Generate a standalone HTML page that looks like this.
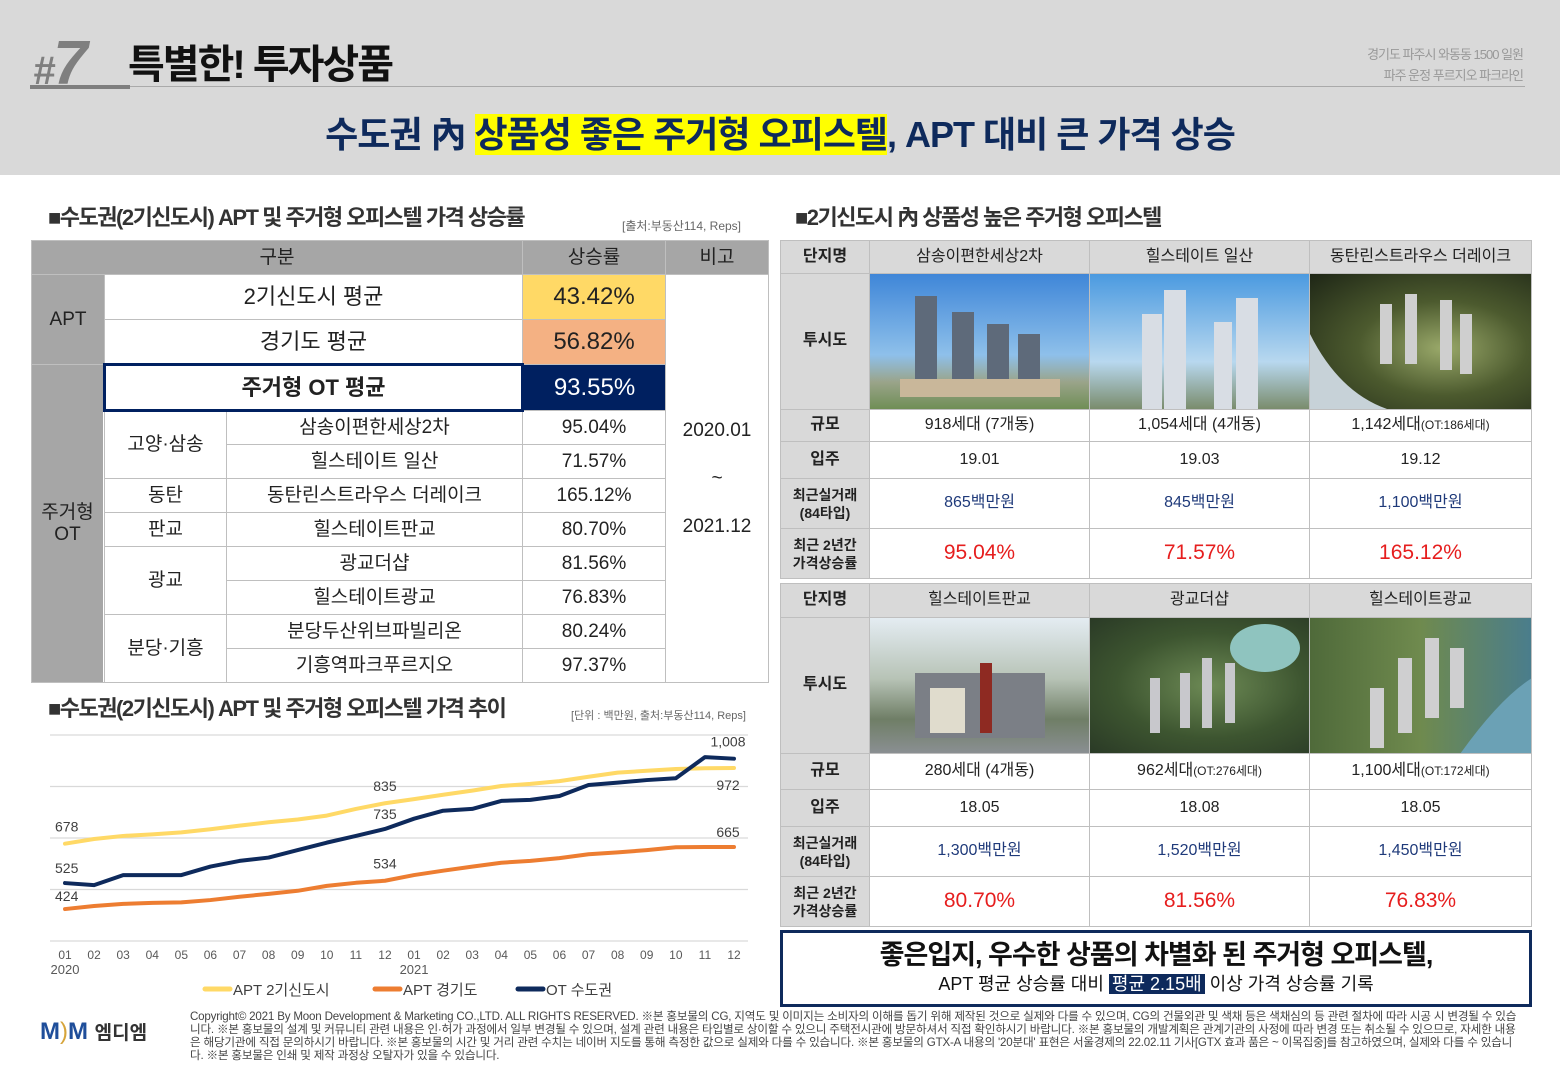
<!DOCTYPE html>
<html><head><meta charset="utf-8">
<style>
*{margin:0;padding:0;box-sizing:border-box}
body{width:1560px;height:1080px;position:relative;background:#fff;font-family:"Liberation Sans","Noto Sans CJK KR",sans-serif;overflow:hidden;color:#222}
.a{position:absolute;white-space:nowrap}
table{border-collapse:collapse;position:absolute;table-layout:fixed}
td{border:1px solid #bfbfbf;text-align:center;vertical-align:middle;padding:0;overflow:hidden;white-space:nowrap;line-height:1.15}
.g{background:#a6a6a6}
.lg{background:#d9d9d9;font-weight:bold}
.lt td{font-size:19px;color:#222}
.rt td{font-size:16px}
.navy{color:#1f3a7a}
.red{color:#e61e1e;font-size:21px!important}
.img{padding:0}
.img div{width:100%;height:100%;overflow:hidden}
svg{display:block}
</style></head><body>
<div class="a" style="left:0;top:0;width:1560px;height:175px;background:#d9d9d9"></div>
<div class="a" style="left:30px;top:86px;width:1495px;height:1px;background:#aaa"></div>
<div class="a" style="left:33px;top:28px;font-size:62px;font-style:italic;color:#7f7f7f;font-weight:bold;letter-spacing:-2px"><span style="font-size:40px">#</span>7</div>
<div class="a" style="left:30px;top:85px;width:100px;height:4px;background:#7f7f7f"></div>
<div class="a" style="left:128px;top:32px;font-size:40px;font-weight:bold;color:#111;letter-spacing:-2px">특별한! 투자상품</div>
<div class="a" style="right:37px;top:44px;font-size:13px;color:#999;text-align:right;line-height:21px;letter-spacing:-1px">경기도 파주시 와동동 1500 일원<br>파주 운정 푸르지오 파크라인</div>
<div class="a" style="left:0;width:1560px;top:106px;text-align:center;font-size:36px;font-weight:bold;color:#0e2a5c;letter-spacing:-1px">수도권 內 <span style="background:#ffff00">상품성 좋은 주거형 오피스텔</span>, APT 대비 큰 가격 상승</div>

<div class="a" style="left:48px;top:200px;font-size:22px;font-weight:bold;color:#333;letter-spacing:-1.5px">■수도권(2기신도시) APT 및 주거형 오피스텔 가격 상승률</div>
<div class="a" style="left:622px;top:217px;font-size:12px;color:#666">[출처:부동산114, Reps]</div>

<table class="lt" style="left:31px;top:240px;width:737px">
<colgroup><col style="width:73px"><col style="width:122px"><col style="width:296px"><col style="width:143px"><col style="width:103px"></colgroup>
<tr style="height:34px" class="g"><td colspan="3">구분</td><td>상승률</td><td>비고</td></tr>
<tr style="height:45px"><td rowspan="2" class="g">APT</td><td colspan="2" style="font-size:22px">2기신도시 평균</td><td style="background:#ffd966;font-size:24px">43.42%</td><td rowspan="11" style="font-size:19px;line-height:48px">2020.01<br>~<br>2021.12</td></tr>
<tr style="height:45px"><td colspan="2" style="font-size:22px">경기도 평균</td><td style="background:#f4b183;font-size:24px">56.82%</td></tr>
<tr style="height:46px"><td rowspan="9" class="g">주거형<br>OT</td><td colspan="2" style="font-size:22px;font-weight:bold;border:3px solid #002060">주거형 OT 평균</td><td style="background:#002060;color:#fff;font-size:24px">93.55%</td></tr>
<tr style="height:34px"><td rowspan="2">고양·삼송</td><td>삼송이편한세상2차</td><td>95.04%</td></tr>
<tr style="height:34px"><td>힐스테이트 일산</td><td>71.57%</td></tr>
<tr style="height:34px"><td>동탄</td><td>동탄린스트라우스 더레이크</td><td>165.12%</td></tr>
<tr style="height:34px"><td>판교</td><td>힐스테이트판교</td><td>80.70%</td></tr>
<tr style="height:34px"><td rowspan="2">광교</td><td>광교더샵</td><td>81.56%</td></tr>
<tr style="height:34px"><td>힐스테이트광교</td><td>76.83%</td></tr>
<tr style="height:34px"><td rowspan="2">분당·기흥</td><td>분당두산위브파빌리온</td><td>80.24%</td></tr>
<tr style="height:34px"><td>기흥역파크푸르지오</td><td>97.37%</td></tr>
</table>

<div class="a" style="left:795px;top:200px;font-size:22px;font-weight:bold;color:#333;letter-spacing:-1.5px">■2기신도시 內 상품성 높은 주거형 오피스텔</div>

<table class="rt" style="left:780px;top:240px;width:751px">
<colgroup><col style="width:89px"><col style="width:220px"><col style="width:220px"><col style="width:222px"></colgroup>
<tr style="height:33px" class="lg"><td>단지명</td><td style="font-weight:normal">삼송이편한세상2차</td><td style="font-weight:normal">힐스테이트 일산</td><td style="font-weight:normal">동탄린스트라우스 더레이크</td></tr>
<tr style="height:136px"><td class="lg">투시도</td><td class="img"><div style="height:135px;background:linear-gradient(180deg,#3f86d8 0%,#8ec0ea 60%,#9aa48a 80%,#6f8e55 100%)"><svg width="220" height="135"><g fill="#5e6a7a"><rect x="45" y="22" width="22" height="100"/><rect x="82" y="38" width="22" height="84"/><rect x="117" y="50" width="22" height="72"/><rect x="148" y="60" width="22" height="62"/></g><rect x="30" y="105" width="160" height="18" fill="#c9b79a"/></svg></div></td><td class="img"><div style="height:135px;background:linear-gradient(180deg,#4b9ae0 0%,#b8d8ef 65%,#7a8c6c 100%)"><svg width="220" height="135"><g fill="#d8dde4"><rect x="52" y="40" width="20" height="96"/><rect x="74" y="16" width="22" height="120"/><rect x="124" y="48" width="18" height="88"/><rect x="146" y="24" width="22" height="112"/></g></svg></div></td><td class="img"><div style="height:135px;background:radial-gradient(ellipse at 60% 55%,#9aa96a 0%,#4c5a2e 45%,#1e2616 100%)"><svg width="221" height="135"><g fill="#cfcfcf"><rect x="70" y="30" width="12" height="60"/><rect x="95" y="20" width="12" height="70"/><rect x="130" y="26" width="12" height="70"/><rect x="150" y="40" width="12" height="60"/></g><path d="M0 60 Q30 120 80 136 L0 136Z" fill="#c7d2d8"/></svg></div></td></tr>
<tr style="height:32px"><td class="lg">규모</td><td>918세대 (7개동)</td><td>1,054세대 (4개동)</td><td>1,142세대<span style="font-size:12px">(OT:186세대)</span></td></tr>
<tr style="height:37px"><td class="lg">입주</td><td>19.01</td><td>19.03</td><td>19.12</td></tr>
<tr style="height:50px"><td class="lg" style="font-size:14px;line-height:18px">최근실거래<br>(84타입)</td><td class="navy">865백만원</td><td class="navy">845백만원</td><td class="navy">1,100백만원</td></tr>
<tr style="height:50px"><td class="lg" style="font-size:14px;line-height:18px">최근 2년간<br>가격상승률</td><td class="red">95.04%</td><td class="red">71.57%</td><td class="red">165.12%</td></tr>
</table>

<table class="rt" style="left:780px;top:583px;width:751px">
<colgroup><col style="width:89px"><col style="width:220px"><col style="width:220px"><col style="width:222px"></colgroup>
<tr style="height:34px" class="lg"><td>단지명</td><td style="font-weight:normal">힐스테이트판교</td><td style="font-weight:normal">광교더샵</td><td style="font-weight:normal">힐스테이트광교</td></tr>
<tr style="height:136px"><td class="lg">투시도</td><td class="img"><div style="height:135px;background:linear-gradient(180deg,#e4ecf2 0%,#b7c3b6 45%,#6f7e66 75%,#8a8f92 100%)"><svg width="220" height="135"><rect x="45" y="55" width="130" height="65" fill="#7b7f86"/><rect x="110" y="45" width="12" height="70" fill="#8e2a22"/><rect x="60" y="70" width="35" height="45" fill="#e0dccd"/></svg></div></td><td class="img"><div style="height:135px;background:radial-gradient(ellipse at 55% 50%,#6d8a55 0%,#3d5530 55%,#2a3a26 100%)"><svg width="220" height="135"><ellipse cx="175" cy="30" rx="35" ry="24" fill="#8fc4bf"/><g fill="#c8c8cc"><rect x="60" y="60" width="10" height="55"/><rect x="90" y="55" width="10" height="55"/><rect x="112" y="40" width="10" height="70"/><rect x="135" y="45" width="10" height="60"/></g></svg></div></td><td class="img"><div style="height:135px;background:linear-gradient(90deg,#4f6a3a 0%,#6f8a4e 50%,#4a7d8c 100%)"><svg width="222" height="135"><path d="M150 136 Q190 80 222 60 L222 136Z" fill="#6ba1b5"/><g fill="#cfcfd0"><rect x="60" y="70" width="14" height="60"/><rect x="88" y="40" width="14" height="75"/><rect x="115" y="20" width="14" height="80"/><rect x="140" y="30" width="14" height="60"/></g></svg></div></td></tr>
<tr style="height:36px"><td class="lg">규모</td><td>280세대 (4개동)</td><td>962세대<span style="font-size:12px">(OT:276세대)</span></td><td>1,100세대<span style="font-size:12px">(OT:172세대)</span></td></tr>
<tr style="height:37px"><td class="lg">입주</td><td>18.05</td><td>18.08</td><td>18.05</td></tr>
<tr style="height:50px"><td class="lg" style="font-size:14px;line-height:18px">최근실거래<br>(84타입)</td><td class="navy">1,300백만원</td><td class="navy">1,520백만원</td><td class="navy">1,450백만원</td></tr>
<tr style="height:50px"><td class="lg" style="font-size:14px;line-height:18px">최근 2년간<br>가격상승률</td><td class="red">80.70%</td><td class="red">81.56%</td><td class="red">76.83%</td></tr>
</table>

<div class="a" style="left:780px;top:930px;width:752px;height:77px;border:3px solid #0e2a5c;text-align:center">
<div style="font-size:27px;font-weight:bold;margin-top:5px;line-height:34px;letter-spacing:-1px;color:#111">좋은입지, 우수한 상품의 차별화 된 주거형 오피스텔,</div>
<div style="font-size:18px;line-height:24px;margin-top:0;color:#111">APT 평균 상승률 대비 <span style="background:#0e2a5c;color:#fff;padding:0 3px">평균 2.15배</span> 이상 가격 상승률 기록</div>
</div>

<div class="a" style="left:48px;top:691px;font-size:22px;font-weight:bold;color:#333;letter-spacing:-1.5px">■수도권(2기신도시) APT 및 주거형 오피스텔 가격 추이</div>
<div class="a" style="left:571px;top:707px;font-size:11px;color:#666">[단위 : 백만원, 출처:부동산114, Reps]</div>

<svg class="a" style="left:0;top:0" width="1560" height="1080" id="chart"></svg>

<div class="a" style="left:40px;top:1018px;font-size:24px;font-weight:bold;color:#1f4e9a">M<span style="color:#d6a43a;font-weight:normal">)</span>M <span style="font-size:19px;color:#333">엠디엠</span></div>
<div class="a" style="left:190px;top:1010px;width:1328px;white-space:normal;font-size:11.6px;line-height:13px;color:#444;letter-spacing:-0.2px">Copyright© 2021 By Moon Development &amp; Marketing CO.,LTD. ALL RIGHTS RESERVED. ※본 홍보물의 CG, 지역도 및 이미지는 소비자의 이해를 돕기 위해 제작된 것으로 실제와 다를 수 있으며, CG의 건물외관 및 색채 등은 색채심의 등 관련 절차에 따라 시공 시 변경될 수 있습니다. ※본 홍보물의 설계 및 커뮤니티 관련 내용은 인·허가 과정에서 일부 변경될 수 있으며, 설계 관련 내용은 타입별로 상이할 수 있으니 주택전시관에 방문하셔서 직접 확인하시기 바랍니다. ※본 홍보물의 개발계획은 관계기관의 사정에 따라 변경 또는 취소될 수 있으므로, 자세한 내용은 해당기관에 직접 문의하시기 바랍니다. ※본 홍보물의 시간 및 거리 관련 수치는 네이버 지도를 통해 측정한 값으로 실제와 다를 수 있습니다. ※본 홍보물의 GTX-A 내용의 '20분대' 표현은 서울경제의 22.02.11 기사[GTX 효과 품은 ~ 이목집중]를 참고하였으며, 실제와 다를 수 있습니다. ※본 홍보물은 인쇄 및 제작 과정상 오탈자가 있을 수 있습니다.</div>

<script>
const months = ["01","02","03","04","05","06","07","08","09","10","11","12","01","02","03","04","05","06","07","08","09","10","11","12"];
const years = ["2020","2021"];
const gridValues = [300,500,700,900,1100];
const aptNewTown = [678,696,708,714,722,734,748,761,772,787,813,835,851,868,884,902,910,921,938,954,961,968,971,972];
const aptGyeonggi = [424,436,444,448,450,459,472,483,495,514,526,534,556,573,589,604,611,622,637,644,653,664,665,665];
const otMetro = [525,517,556,556,556,589,611,624,653,682,708,735,775,806,813,844,848,863,906,915,925,932,1014,1008];
const labelIdx = [0,11,23];

const NS = "http://www.w3.org/2000/svg";
const svg = document.getElementById("chart");
const X0 = 65, X1 = 734, Y0 = 941, YS = 0.2575, GL = 50, GR = 748;
function xs(i){ return X0 + i * (X1 - X0) / (months.length - 1); }
function ys(v){ return Y0 - (v - 300) * YS; }
function mk(tag, attrs){ const e = document.createElementNS(NS, tag); for (const k in attrs) e.setAttribute(k, attrs[k]); return e; }

gridValues.forEach(function(v){
  const l = mk("line", {x1:GL, x2:GR, y1:ys(v), y2:ys(v), stroke:"#d9d9d9", "stroke-width":1.3});
  
  
  svg.appendChild(l);
});
months.forEach(function(m, i){
  const t = mk("text", {x:xs(i), y:959, "text-anchor":"middle", "font-size":12, fill:"#595959"});
  t.textContent = m;
  
  
  svg.appendChild(t);
});
years.forEach(function(yr, k){
  const t = mk("text", {x:xs(k * 12), y:974, "text-anchor":"middle", "font-size":13, fill:"#595959"});
  t.textContent = yr;
  
  
  svg.appendChild(t);
});
const series = [
  {d:aptNewTown, c:"#ffd966", n:"apt-newtown-line", off:[-12,-12,22]},
  {d:aptGyeonggi, c:"#ed7d31", n:"apt-gyeonggi-line", off:[-8,-12,-10]},
  {d:otMetro, c:"#0e2a5c", n:"ot-metro-line", off:[-10,-10,-12]}
];
series.forEach(function(s){
  const pts = s.d.map(function(v, i){ return xs(i) + "," + ys(v); }).join(" ");
  const p = mk("polyline", {points:pts, fill:"none", stroke:s.c, "stroke-width":4, "stroke-linejoin":"round", "stroke-linecap":"round"});
  
  
  svg.appendChild(p);
  labelIdx.forEach(function(i, k){
    const anchor = k === 0 ? "start" : "middle";
    const lx = k === 0 ? 55 : (k === 2 ? xs(i) - 6 : xs(i));
    const t = mk("text", {x:lx, y:ys(s.d[i]) + s.off[k], "text-anchor":anchor, "font-size":14, fill:"#404040"});
    t.textContent = s.d[i].toLocaleString("en-US");
    
    
    svg.appendChild(t);
  });
});
const legendItems = [["APT 2기신도시","#ffd966",205],["APT 경기도","#ed7d31",375],["OT 수도권","#0e2a5c",518]];
legendItems.forEach(function(li){
  const l = mk("line", {x1:li[2], x2:li[2] + 25, y1:989, y2:989, stroke:li[1], "stroke-width":5, "stroke-linecap":"round"});
  
  
  svg.appendChild(l);
  const t = mk("text", {x:li[2] + 28, y:995, "font-size":15, fill:"#404040"});
  t.textContent = li[0];
  
  
  svg.appendChild(t);
});
</script>
</body></html>
